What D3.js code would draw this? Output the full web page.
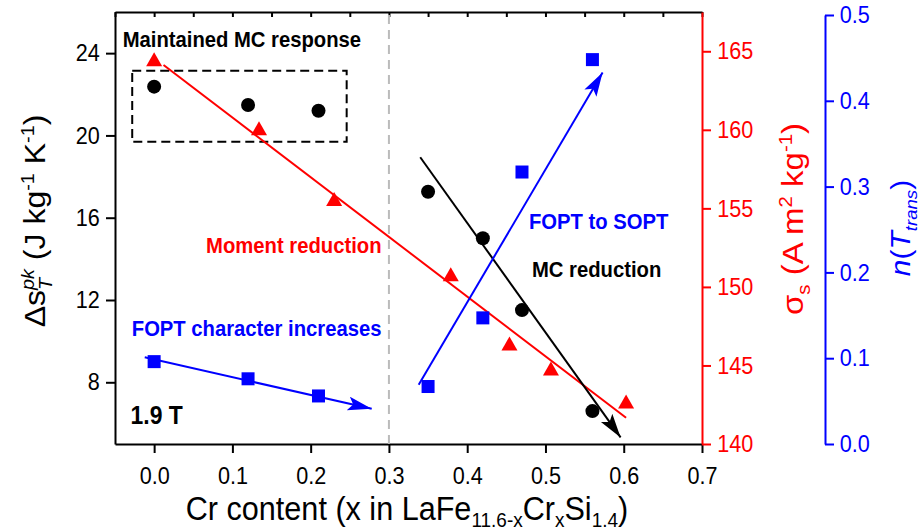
<!DOCTYPE html>
<html><head><meta charset="utf-8">
<script src="https://cdn.jsdelivr.net/npm/d3@7"></script>
<style>body{margin:0;background:#fff}svg{display:block;font-family:"Liberation Sans",Arial,sans-serif}</style>
</head><body><svg id="c" width="922" height="532"></svg>
<script>
// ---- data ----
const xMajor = [0, 0.1, 0.2, 0.3, 0.4, 0.5, 0.6, 0.7];
const xMinor = [-0.05, 0.05, 0.15, 0.25, 0.35, 0.45, 0.55, 0.65];
const leftMajor = [8, 12, 16, 20, 24];
const leftMinor = [6, 10, 14, 18, 22, 26];
const redMajor = [140, 145, 150, 155, 160, 165];
const redMinor = [142.5, 147.5, 152.5, 157.5, 162.5, 167.5];
const blueMajor = [0, 0.1, 0.2, 0.3, 0.4, 0.5];
const blueMinor = [0.05, 0.15, 0.25, 0.35, 0.45];

// black circles: peak entropy change (left axis)
const xCirc = [0, 0.12, 0.21, 0.35, 0.42, 0.47, 0.56];
const dsPk = [22.37, 21.48, 21.2, 17.26, 15.0, 11.51, 6.6];
// red triangles: saturation magnetisation (red axis)
const xTri = [0, 0.134, 0.23, 0.379, 0.454, 0.507, 0.603];
const sigmaS = [164.5, 160.1, 155.6, 150.8, 146.4, 144.8, 142.7];
// blue squares: n(T_trans) (blue axis)
const xSq = [0, 0.12, 0.21, 0.35, 0.42, 0.47, 0.56];
const nTrans = [0.096, 0.076, 0.056, 0.067, 0.147, 0.317, 0.448];

// guide lines
const redFitX = [0.012, 0.603], redFitY = [164.13, 141.67];
const blackFitX = [0.34, 0.596], blackFitY = [18.94, 5.32];
const blueFit1X = [-0.012, 0.278], blueFit1Y = [0.101, 0.041];
const blueFit2X = [0.338, 0.573], blueFit2Y = [0.069, 0.433];
const boxX = [-0.028, 0.246], boxY = [19.69, 23.15];
const dividerX = 0.3;

// ---- scales ----
const x = d3.scaleLinear([-0.05, 0.7], [115, 702]);
const yL = d3.scaleLinear([5, 26], [444, 12]);
const yR = d3.scaleLinear([140, 167.5], [444, 12]);
const yB = d3.scaleLinear([0, 0.5], [444, 15]);
const SX = 0.9;
const RED = "#ff0000", BLUE = "#0000ff";

const svg = d3.select("#c");
const defs = svg.append("defs");
function marker(id, color) {
  defs.append("marker").attr("id", id).attr("markerUnits", "userSpaceOnUse")
    .attr("markerWidth", 28).attr("markerHeight", 16).attr("refX", 24).attr("refY", 7)
    .attr("orient", "auto")
    .append("path").attr("d", "M0,0 L24,7 L0,14 L5,7 Z").attr("fill", color);
}
marker("ab", "#000"); marker("ablue", BLUE);

function styleAxis(g, color) {
  g.selectAll("path.domain").attr("stroke", color).attr("stroke-width", 2);
  g.selectAll(".tick line").attr("stroke", color).attr("stroke-width", 2);
}

// bottom axis
let g = svg.append("g").attr("transform", "translate(0,444)");
g.call(d3.axisBottom(x).tickValues(xMinor).tickSize(6).tickSizeOuter(0).tickFormat(""));
g.call(d3.axisBottom(x).tickValues(xMajor).tickSize(9).tickSizeOuter(0).tickFormat(d3.format(".1f")));
styleAxis(g, "#000");
g.selectAll("text").attr("font-size", 24).attr("fill", "#000").attr("y", 23)
  .attr("transform", `scale(${SX},1)`).style("font-family", "'Liberation Sans',Arial,sans-serif");
// top axis (inward ticks)
g = svg.append("g").attr("transform", "translate(0,12)");
g.call(d3.axisTop(x).tickValues(xMinor.concat(xMajor)).tickSize(-5).tickSizeOuter(0).tickFormat(""));
styleAxis(g, "#000");

// left axis
g = svg.append("g").attr("transform", "translate(115,0)");
g.call(d3.axisLeft(yL).tickValues(leftMinor).tickSize(5).tickSizeOuter(0).tickFormat(""));
g.call(d3.axisLeft(yL).tickValues(leftMajor).tickSize(9).tickSizeOuter(0).tickFormat(d3.format("d")));
styleAxis(g, "#000");
g.selectAll("text").attr("font-size", 24).attr("fill", "#000").attr("x", -17)
  .attr("transform", `scale(${SX},1)`).style("font-family", "'Liberation Sans',Arial,sans-serif");

// red axis
g = svg.append("g").attr("transform", "translate(702,0)");
g.call(d3.axisRight(yR).tickValues(redMinor).tickSize(5).tickSizeOuter(0).tickFormat(""));
g.call(d3.axisRight(yR).tickValues(redMajor).tickSize(9).tickSizeOuter(0).tickFormat(d3.format("d")));
styleAxis(g, RED);
g.selectAll("text").attr("font-size", 24).attr("fill", RED).attr("x", 17)
  .attr("transform", `scale(${SX},1)`).style("font-family", "'Liberation Sans',Arial,sans-serif");

// blue axis
g = svg.append("g").attr("transform", "translate(825,0)");
g.call(d3.axisRight(yB).tickValues(blueMinor).tickSize(5).tickSizeOuter(0).tickFormat(""));
g.call(d3.axisRight(yB).tickValues(blueMajor).tickSize(9).tickSizeOuter(0).tickFormat(d3.format(".1f")));
styleAxis(g, BLUE);
g.selectAll("text").attr("font-size", 24).attr("fill", BLUE).attr("x", 16.5)
  .attr("transform", `scale(${SX},1)`).style("font-family", "'Liberation Sans',Arial,sans-serif");

// divider dashed line
svg.append("line").attr("x1", x(dividerX)).attr("x2", x(dividerX)).attr("y1", 444).attr("y2", 14)
  .attr("stroke", "#bbbbbb").attr("stroke-width", 2).attr("stroke-dasharray", "9,6");

// dashed box
svg.append("rect").attr("x", x(boxX[0])).attr("y", yL(boxY[1]))
  .attr("width", x(boxX[1]) - x(boxX[0])).attr("height", yL(boxY[0]) - yL(boxY[1]))
  .attr("fill", "none").attr("stroke", "#000").attr("stroke-width", 2).attr("stroke-dasharray", "9,5");

// guide lines
function seg(xs, ys, ys_scale, color, mk) {
  const l = svg.append("line").attr("x1", x(xs[0])).attr("y1", ys_scale(ys[0]))
    .attr("x2", x(xs[1])).attr("y2", ys_scale(ys[1])).attr("stroke", color).attr("stroke-width", 2);
  if (mk) l.attr("marker-end", `url(#${mk})`);
}
seg(redFitX, redFitY, yR, RED, null);
seg(blackFitX, blackFitY, yL, "#000", "ab");
seg(blueFit1X, blueFit1Y, yB, BLUE, "ablue");
seg(blueFit2X, blueFit2Y, yB, BLUE, "ablue");

// markers
svg.append("g").selectAll("circle").data(xCirc).join("circle")
  .attr("cx", (d) => x(d)).attr("cy", (d, i) => yL(dsPk[i])).attr("r", 7).attr("fill", "#000");
svg.append("g").selectAll("path").data(xTri).join("path")
  .attr("transform", (d, i) => `translate(${x(d)},${yR(sigmaS[i])})`)
  .attr("d", "M0,-7 L8,7 L-8,7 Z").attr("fill", RED);
svg.append("g").selectAll("rect").data(xSq).join("rect")
  .attr("x", (d) => x(d) - 6.5).attr("y", (d, i) => yB(nTrans[i]) - 6.5)
  .attr("width", 13).attr("height", 13).attr("fill", BLUE);

// annotations
function ann(txt, px, py, color, size, anchor) {
  svg.append("text").attr("transform", `translate(${px},${py}) scale(${SX},1)`)
    .attr("font-size", size).attr("font-weight", "bold").attr("fill", color)
    .attr("text-anchor", anchor || "start").text(txt);
}
ann("Maintained MC response", 122.7, 46.7, "#000", 22.5);
ann("Moment reduction", 381.5, 253, RED, 22.5, "end");
ann("FOPT character increases", 381.5, 336, BLUE, 22.5, "end");
ann("FOPT to SOPT", 529, 229, BLUE, 22.5);
ann("MC reduction", 532, 277, "#000", 22.5);
ann("1.9 T", 130.5, 424.3, "#000", 25.5);

// axis titles
function sub(t, txt, fs, italic, drop) {
  t.append("tspan").attr("font-size", fs * 0.62).attr("dy", fs * (drop || 0.25))
    .attr("font-style", italic ? "italic" : null).text(txt);
}
function sup(t, txt, fs) {
  t.append("tspan").attr("font-size", fs * 0.62).attr("dy", -fs * 0.38).text(txt);
}
// x title
let fs = 34;
const xd = 0.2;
let t = svg.append("text").attr("transform", `translate(407,520) scale(${SX},1)`)
  .attr("text-anchor", "middle").attr("font-size", fs).attr("fill", "#000");
t.append("tspan").text("Cr content (x in LaFe");
sub(t, "11.6-x", fs, false, xd);
t.append("tspan").attr("dy", -fs * xd).text("Cr");
sub(t, "x", fs, false, xd);
t.append("tspan").attr("dy", -fs * xd).text("Si");
sub(t, "1.4", fs, false, xd);
t.append("tspan").attr("dy", -fs * xd).text(")");

// left title
fs = 32;
t = svg.append("text").attr("transform", `translate(45,221) scale(${SX},1) rotate(-90)`)
  .attr("text-anchor", "middle").attr("font-size", fs).attr("fill", "#000");
t.append("tspan").text("Δs");
const small = fs * 0.62;
t.append("tspan").attr("font-size", small).attr("font-style", "italic").attr("dy", -fs * 0.38).text("pk");
t.append("tspan").attr("font-size", small).attr("font-style", "italic")
  .attr("dx", -1.056 * small).attr("dy", fs * 0.38 + fs * 0.25).text("T");
t.append("tspan").attr("dx", (1.056 - 0.611) * small).attr("dy", -fs * 0.25).text(" (J kg");
sup(t, "-1", fs);
t.append("tspan").attr("dy", fs * 0.38).text(" K");
sup(t, "-1", fs);
t.append("tspan").attr("dy", fs * 0.38).text(")");

// red title
fs = 33;
t = svg.append("text").attr("transform", `translate(803,219) scale(${SX},1) rotate(-90)`)
  .attr("text-anchor", "middle").attr("font-size", fs).attr("fill", RED);
t.append("tspan").text("σ");
sub(t, "s", fs);
t.append("tspan").attr("dy", -fs * 0.25).text(" (A m");
sup(t, "2", fs);
t.append("tspan").attr("dy", fs * 0.38).text(" kg");
sup(t, "-1", fs);
t.append("tspan").attr("dy", fs * 0.38).text(")");

// blue title
fs = 30;
t = svg.append("text").attr("transform", `translate(910,228) scale(${SX},1) rotate(-90)`)
  .attr("text-anchor", "middle").attr("font-size", fs).attr("fill", BLUE);
t.append("tspan").attr("font-style", "italic").text("n");
t.append("tspan").text("(");
t.append("tspan").attr("font-style", "italic").text("T");
sub(t, "trans", fs, true);
t.append("tspan").attr("dy", -fs * 0.25).text(")");
</script></body></html>
